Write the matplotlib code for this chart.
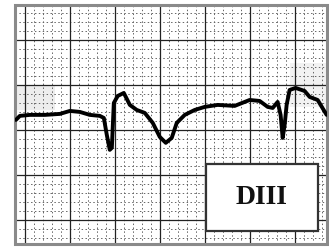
import matplotlib.pyplot as plt
from matplotlib import patches

# ECG trace, lead DIII (x and y in mm of paper, 1 small box = 1 mm)
t_mm = [-1.0, -0.56, 0.56, 2.22, 3.89, 5.0, 6.11, 7.22, 8.33, 8.78, 9.11, 9.44,
        9.67, 9.89, 10.33, 11.0, 11.67, 12.44, 13.33, 14.22, 15.0, 15.67, 16.33,
        16.89, 17.78, 18.89, 20.0, 21.44, 23.33, 25.0, 26.11, 27.0, 27.56, 28.11,
        28.44, 28.67, 28.89, 29.11, 29.44, 30.11, 31.11, 31.67, 32.56, 33.56]
amp_mm = [1.11, 1.56, 1.67, 1.67, 1.78, 2.11, 2.0, 1.67, 1.56, 1.33, -0.56, -2.22,
          -2.0, 3.0, 3.78, 4.11, 2.78, 2.22, 1.89, 0.78, -0.78, -1.44, -0.89,
          0.78, 1.67, 2.22, 2.56, 2.78, 2.67, 3.33, 3.22, 2.56, 2.44, 3.11,
          1.67, -0.89, 0.56, 2.78, 4.44, 4.67, 4.33, 3.67, 3.33, 1.67]
lead = 'DIII'

x0, x1 = -1.1, 33.6
y0, y1 = -12.7, 13.9

fig = plt.figure(figsize=(3.29, 2.47), dpi=100)
fig.patch.set_facecolor('white')
ax = fig.add_axes([15/329, 3/247, 312/329, 239/247])
ax.set_xlim(x0, x1)
ax.set_ylim(y0, y1)
ax.axis('off')

# sombras grises del papel
ax.add_patch(patches.Rectangle((x0, 2.2), 4.5, 2.8, color='#dddddd', alpha=0.5, lw=0, zorder=0))
ax.add_patch(patches.Rectangle((29.5, 2.5), 4.2, 5.0, color='#e6e6e6', alpha=0.5, lw=0, zorder=0))

# cuadricula menor (punteada)
for k in range(-2, 35):
    if k % 5:
        ax.axvline(k, color='#666666', lw=0.7, ls=(0, (1.5, 2.5)), zorder=1)
for k in range(-13, 14):
    if k % 5:
        ax.axhline(k, color='#666666', lw=0.7, ls=(0, (1.5, 2.5)), zorder=1)

# cuadricula mayor
for k in range(0, 35, 5):
    ax.axvline(k, color='#222222', lw=0.9, zorder=2)
for k in range(-10, 14, 5):
    ax.axhline(k, color='#222222', lw=0.9, zorder=2)

# marco
ax.add_patch(patches.Rectangle((x0, y0), x1 - x0, y1 - y0, fill=False,
                               edgecolor='#8a8a8a', lw=2.2, zorder=3, clip_on=False))

# trazo
ax.plot(t_mm, amp_mm, color='black', lw=2.8, solid_joinstyle='round',
        solid_capstyle='round', zorder=4)

# etiqueta
ax.add_patch(patches.Rectangle((20.1, -11.2), 12.5, 7.4, facecolor='white',
                               edgecolor='#333333', lw=1.6, zorder=5))
ax.text(26.35, -7.5, lead, ha='center', va='center', fontsize=20,
        fontweight='bold', family='Liberation Serif', color='#111111', zorder=6)

fig.savefig('out.png', dpi=100)
